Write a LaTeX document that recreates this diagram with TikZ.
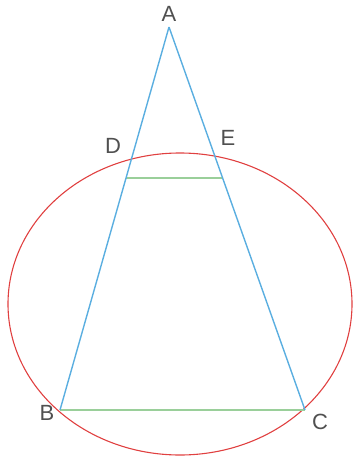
\documentclass[tikz,border=0pt]{standalone}
\usepackage{fontspec}
\setmainfont{Liberation Sans}
\usepackage{xcolor}
\usetikzlibrary{positioning, calc}

\definecolor{sideblue}{HTML}{5AAEE0}
\definecolor{chordgreen}{HTML}{9ACF9A}
\definecolor{ringred}{HTML}{E04040}
\definecolor{labelgrey}{HTML}{505050}

\begin{document}
\begin{tikzpicture}[x=1pt,y=-1pt,
    side/.style={draw=sideblue,line width=1.4pt},
    chord/.style={draw=chordgreen,line width=2.8pt},
    ring/.style={draw=ringred,line width=1.1pt},
    lbl/.style={text=labelgrey,font=\fontsize{22}{22}\selectfont,inner sep=0pt}]
    \useasboundingbox (0,0) rectangle (358,461);

    % points of the figure
    \coordinate (A) at (169,27);
    \coordinate (B) at (60,410);
    \coordinate (C) at (305,410);
    \coordinate (D) at ($(A)!0.394!(B)$);
    \coordinate (E) at ($(A)!0.394!(C)$);

    % labels
    \node[lbl] (lA) at (169,14) {A};
    \node[lbl] (lD) at (113,146) {D};
    \node[lbl] (lE) at (228,138) {E};
    \node[lbl] (lB) at (47,413) {B};
    \node[lbl] (lC) at (320,422) {C};

    \draw[ring] (180,304) ellipse [x radius=172, y radius=151];
    \draw[chord] (D) -- (E);
    \draw[chord] (B) -- (C);
    \draw[side] (A) -- (B);
    \draw[side] (A) -- (C);
\end{tikzpicture}
\end{document}
